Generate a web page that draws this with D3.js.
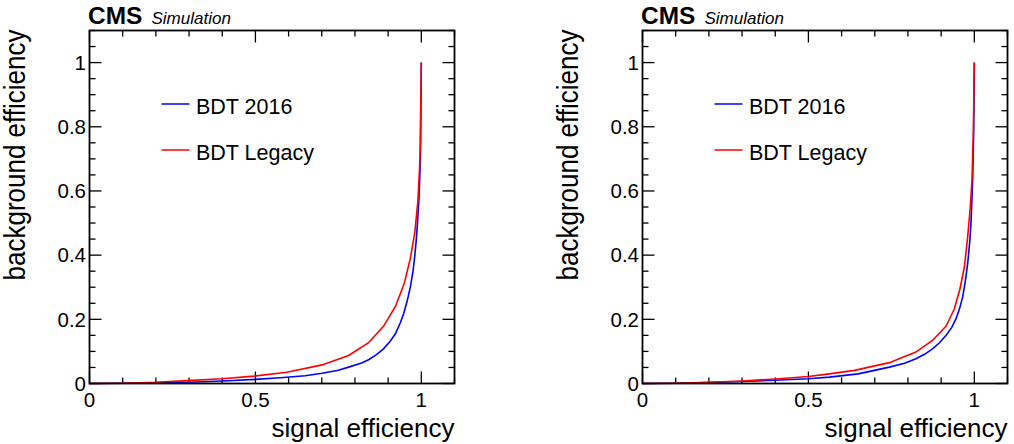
<!DOCTYPE html>
<html>
<head>
<meta charset="utf-8">
<script src="https://cdn.jsdelivr.net/npm/d3@7"></script>
<style>
  body { margin: 0; background: #fff; }
  svg { display: block; font-family: "Liberation Sans", Arial, sans-serif; }
</style>
</head>
<body>
<script>
// left panel
const sigBlueL = [0, 0.1, 0.2, 0.3, 0.4, 0.5, 0.575, 0.65, 0.701, 0.75, 0.781, 0.82, 0.841, 0.865, 0.886, 0.905, 0.922, 0.937, 0.947, 0.958, 0.967, 0.975, 0.98, 0.985, 0.989, 0.993, 0.996, 0.998, 1.0];
const bkgBlueL = [0, 0.001, 0.002, 0.004, 0.008, 0.013, 0.018, 0.024, 0.032, 0.041, 0.051, 0.064, 0.074, 0.09, 0.108, 0.13, 0.155, 0.19, 0.218, 0.26, 0.301, 0.35, 0.395, 0.45, 0.51, 0.58, 0.66, 0.75, 1.0];
const sigRedL = [0, 0.1, 0.2, 0.294, 0.4, 0.495, 0.595, 0.701, 0.781, 0.841, 0.886, 0.922, 0.949, 0.967, 0.98, 0.99, 0.996, 1.0];
const bkgRedL = [0, 0.001, 0.004, 0.009, 0.015, 0.023, 0.035, 0.058, 0.0875, 0.127, 0.178, 0.24, 0.313, 0.39, 0.468, 0.572, 0.7, 1.0];
// right panel
const sigBlueR = [0, 0.1, 0.2, 0.3, 0.4, 0.5, 0.563, 0.65, 0.744, 0.79, 0.824, 0.85, 0.874, 0.895, 0.915, 0.932, 0.945, 0.956, 0.965, 0.973, 0.98, 0.986, 0.99, 0.995, 0.998, 1];
const bkgBlueR = [0, 0.001, 0.003, 0.006, 0.01, 0.015, 0.02, 0.03, 0.051, 0.063, 0.077, 0.091, 0.108, 0.127, 0.15, 0.175, 0.202, 0.235, 0.27, 0.32, 0.374, 0.44, 0.499, 0.634, 0.78, 1];
const sigRedR = [0, 0.1, 0.2, 0.3, 0.4, 0.5, 0.563, 0.639, 0.744, 0.824, 0.874, 0.915, 0.94, 0.957, 0.97, 0.98, 0.988, 0.993, 0.997, 1];
const bkgRedR = [0, 0.001, 0.004, 0.008, 0.014, 0.022, 0.03, 0.041, 0.065, 0.098, 0.134, 0.179, 0.233, 0.296, 0.363, 0.457, 0.551, 0.634, 0.78, 1];

const seriesNames = ["BDT 2016", "BDT Legacy"];
const seriesColors = ["#0000ff", "#ff0000"];
const xTicks = [0, 0.5, 1];
const yTicks = [0, 0.2, 0.4, 0.6, 0.8, 1];

const svg = d3.select("body").append("svg")
    .attr("width", 1014)
    .attr("height", 444);

function drawPanel(left, sigBlue, bkgBlue, sigRed, bkgRed) {
    const top = 30.5, bottom = 383.5, right = left + 365;
    const x = d3.scaleLinear().domain([0, 1.1]).range([left, right]);
    const y = d3.scaleLinear().domain([0, 1.1]).range([bottom, top]);
    const g = svg.append("g");

    // ticks, inward on all four sides (ROOT style)
    const xMinor = d3.range(0, 1.101, 0.1);
    const yMinor = d3.range(0, 1.101, 0.05);
    const isMajor = (v, step) => Math.abs(v / step - Math.round(v / step)) < 1e-6;
    xMinor.forEach(v => {
        const len = isMajor(v, 0.5) ? 12 : 6;
        g.append("line").attr("x1", x(v)).attr("x2", x(v)).attr("y1", bottom).attr("y2", bottom - len)
            .attr("stroke", "#000").attr("stroke-width", 1.3);
        g.append("line").attr("x1", x(v)).attr("x2", x(v)).attr("y1", top).attr("y2", top + len)
            .attr("stroke", "#000").attr("stroke-width", 1.3);
    });
    yMinor.forEach(v => {
        const len = isMajor(v, 0.2) ? 12 : 6;
        g.append("line").attr("y1", y(v)).attr("y2", y(v)).attr("x1", left).attr("x2", left + len)
            .attr("stroke", "#000").attr("stroke-width", 1.3);
        g.append("line").attr("y1", y(v)).attr("y2", y(v)).attr("x1", right).attr("x2", right - len)
            .attr("stroke", "#000").attr("stroke-width", 1.3);
    });

    // tick labels
    g.selectAll(".xl").data(xTicks).enter().append("text")
        .attr("x", d => x(d)).attr("y", 406.5)
        .attr("text-anchor", "middle").attr("font-size", 20.5)
        .text(d => d3.format("")(d));
    g.selectAll(".yl").data(yTicks).enter().append("text")
        .attr("x", left - 3.5).attr("y", d => y(d) + 7.3)
        .attr("text-anchor", "end").attr("font-size", 20.5)
        .text(d => d3.format("")(d));

    // axis titles
    g.append("text")
        .attr("x", right).attr("y", 437)
        .attr("text-anchor", "end").attr("font-size", 26)
        .text("signal efficiency");
    g.append("text")
        .attr("transform", "translate(" + (left - 64.5) + "," + (top - 1) + ") scale(1.12,1) rotate(-90)")
        .attr("text-anchor", "end").attr("font-size", 26)
        .text("background efficiency");

    // curves
    const line = d3.line().x(d => x(d[0])).y(d => y(d[1]));
    const curves = [d3.zip(sigBlue, bkgBlue), d3.zip(sigRed, bkgRed)];
    curves.forEach((pts, i) => {
        g.append("path").datum(pts)
            .attr("d", line)
            .attr("fill", "none")
            .attr("stroke", seriesColors[i])
            .attr("stroke-width", 1.6);
    });

    // frame
    g.append("rect")
        .attr("x", left).attr("y", top)
        .attr("width", right - left).attr("height", bottom - top)
        .attr("fill", "none").attr("stroke", "#000").attr("stroke-width", 1.8);

    // legend
    seriesNames.forEach((name, i) => {
        const ly = 104 + i * 46;
        g.append("line").attr("x1", left + 72).attr("x2", left + 100).attr("y1", ly).attr("y2", ly)
            .attr("stroke", seriesColors[i]).attr("stroke-width", 1.5);
        g.append("text").attr("x", left + 106.5).attr("y", ly + 10)
            .attr("font-size", 21.5).text(name);
    });

    // CMS label
    g.append("text")
        .attr("transform", "translate(" + (left - 1.5) + ",24) scale(1.04,1)")
        .attr("font-size", 23.5).attr("font-weight", "bold").text("CMS");
    g.append("text")
        .attr("x", left + 62).attr("y", 24)
        .attr("font-size", 17).attr("font-style", "italic").text("Simulation");
}

drawPanel(89.5, sigBlueL, bkgBlueL, sigRedL, bkgRedL);
drawPanel(642.5, sigBlueR, bkgBlueR, sigRedR, bkgRedR);
</script>
</body>
</html>
